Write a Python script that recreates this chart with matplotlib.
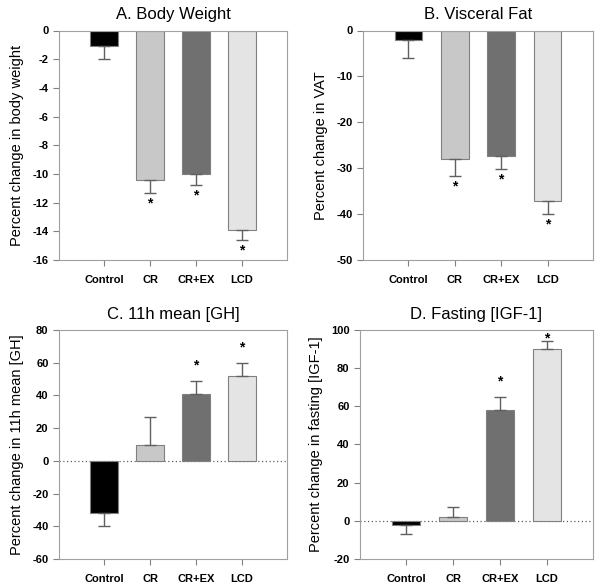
import matplotlib
matplotlib.use("Agg")
import matplotlib.pyplot as plt

plt.rcParams['font.family'] = ['Liberation Sans', 'DejaVu Sans']

categories = ["Control", "CR", "CR+EX", "LCD"]
colors = ["#000000", "#c8c8c8", "#707070", "#e4e4e4"]

bw_vals = [-1.1, -10.4, -10.0, -13.9]
bw_err = [0.9, 0.9, 0.8, 0.7]
vat_vals = [-2.0, -28.0, -27.3, -37.2]
vat_err = [4.0, 3.8, 2.9, 2.8]
gh_vals = [-32.0, 10.0, 41.0, 52.0]
gh_err = [8.0, 17.0, 8.0, 8.0]
igf_vals = [-2.0, 2.0, 58.0, 90.0]
igf_err = [5.0, 5.0, 7.0, 4.0]

panels = [
    dict(title="A. Body Weight", ylabel="Percent change in body weight", vals=bw_vals, err=bw_err,
         ylim=(-16, 0), ticks=list(range(-16, 1, 2)), stars=[False, True, True, True], zero=False,
         rect=[59/600, 1-260/587, 228/600, 229.5/587]),
    dict(title="B. Visceral Fat", ylabel="Percent change in VAT", vals=vat_vals, err=vat_err,
         ylim=(-50, 0), ticks=list(range(-50, 1, 10)), stars=[False, True, True, True], zero=False,
         rect=[363/600, 1-260/587, 230/600, 229.5/587]),
    dict(title="C. 11h mean [GH]", ylabel="Percent change in 11h mean [GH]", vals=gh_vals, err=gh_err,
         ylim=(-60, 80), ticks=list(range(-60, 81, 20)), stars=[False, False, True, True], zero=True,
         rect=[59/600, 1-559/587, 228/600, 229/587]),
    dict(title="D. Fasting [IGF-1]", ylabel="Percent change in fasting [IGF-1]", vals=igf_vals, err=igf_err,
         ylim=(-20, 100), ticks=list(range(-20, 101, 20)), stars=[False, False, True, True], zero=True,
         rect=[360/600, 1-559/587, 233/600, 229/587]),
]

fig = plt.figure(figsize=(6, 5.87), dpi=100)
x = list(range(len(categories)))
for p in panels:
    ax = fig.add_axes(p["rect"])
    vals, err = p["vals"], p["err"]
    yerr_lo = [e if v < 0 else 0 for v, e in zip(vals, err)]
    yerr_hi = [e if v >= 0 else 0 for v, e in zip(vals, err)]
    ax.bar(x, vals, width=0.6, color=colors, edgecolor="#808080", linewidth=0.8,
           yerr=[yerr_lo, yerr_hi], error_kw=dict(ecolor="#606060", elinewidth=1.0, capsize=4, capthick=1.0),
           zorder=2)
    if p["zero"]:
        ax.axhline(0, color="#606060", linestyle=(0, (1, 2)), linewidth=0.9, zorder=1)
    span = p["ylim"][1] - p["ylim"][0]
    for i, (v, e, s) in enumerate(zip(vals, err, p["stars"])):
        if not s:
            continue
        if v < 0:
            ax.text(i, v - e - 0.015 * span, "*", ha="center", va="top", fontsize=10, fontweight="bold")
        else:
            yc = min(v + e + 0.065 * span, p["ylim"][1] - 0.035 * span)
            ax.text(i, yc, "*", ha="center", va="center", fontsize=10, fontweight="bold")
    ax.set_xlim(-0.98, 3.98)
    ax.set_ylim(*p["ylim"])
    ax.set_yticks(p["ticks"])
    ax.set_yticklabels([str(t) for t in p["ticks"]], fontweight="bold", fontsize=8)
    ax.set_xticks(x)
    ax.set_xticklabels(categories, fontweight="bold", fontsize=8)
    ax.tick_params(axis="both", direction="out", length=4, color="#808080", width=0.8)
    ax.tick_params(axis="x", pad=7)
    for sp in ax.spines.values():
        sp.set_color("#a0a0a0")
        sp.set_linewidth(0.8)
    ax.set_title(p["title"], fontsize=12, pad=8)
    ax.set_ylabel(p["ylabel"], fontsize=10.5, labelpad=6)

fig.savefig("out.png", dpi=100, facecolor="white")
